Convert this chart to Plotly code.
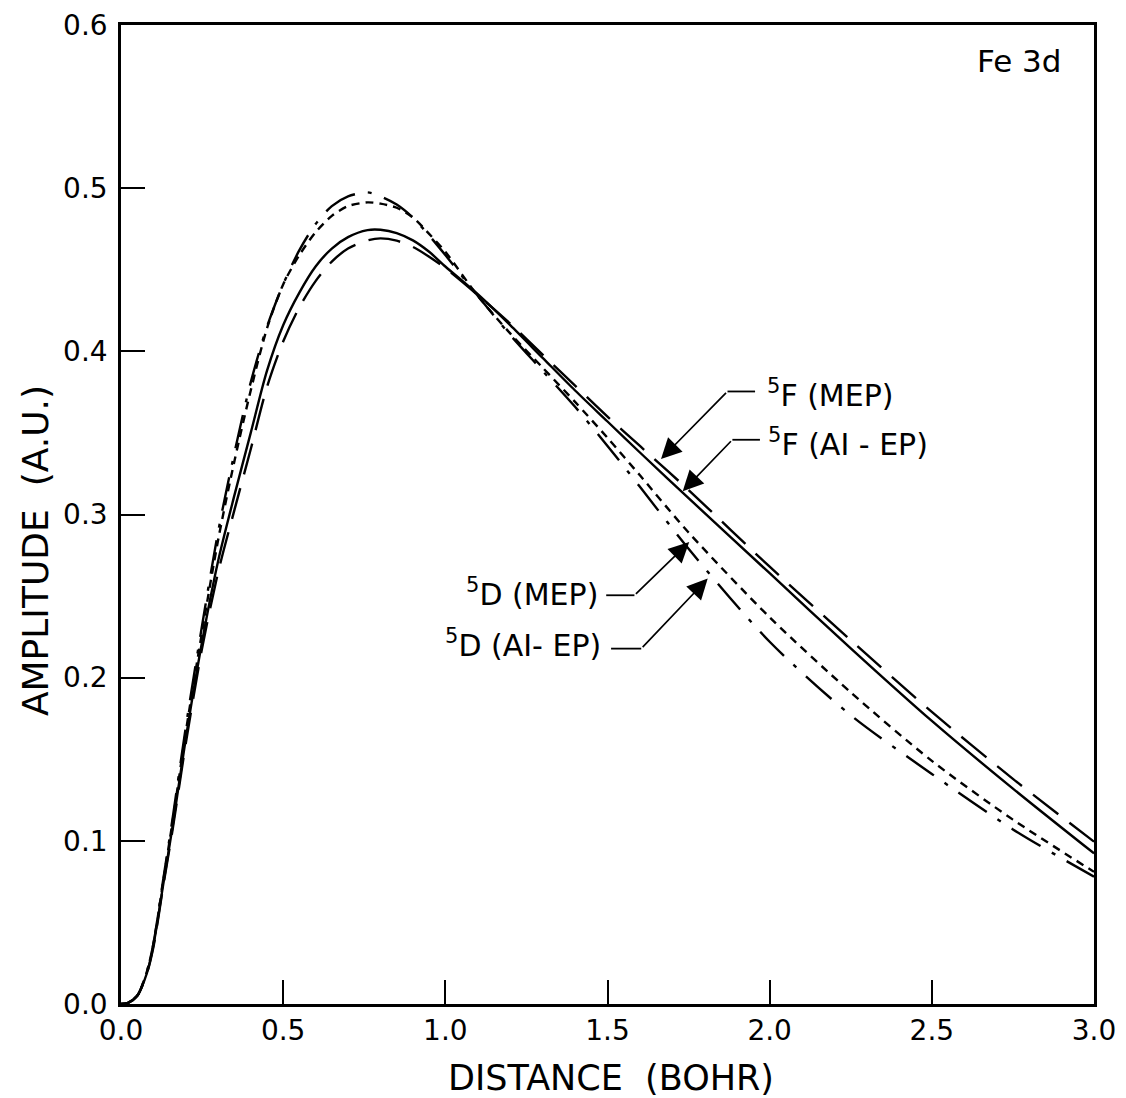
import plotly.graph_objects as go

# Distance grid (bohr)
r = [0.00, 0.02, 0.05, 0.08, 0.10, 0.13, 0.16, 0.20, 0.25, 0.30, 0.35, 0.40, 0.45,
     0.50, 0.55, 0.60, 0.65, 0.70, 0.76, 0.80, 0.85, 0.90, 0.95, 1.00, 1.10, 1.20,
     1.30, 1.40, 1.50, 1.60, 1.75, 2.00, 2.25, 2.50, 2.75, 3.00]

# 5F (AI-EP) – solid
f_aiep = [0.000, 0.0005, 0.005, 0.019, 0.036, 0.073, 0.110, 0.163, 0.222, 0.272, 0.312,
          0.350, 0.388, 0.416, 0.436, 0.452, 0.463, 0.470, 0.4743, 0.4745, 0.4725, 0.468,
          0.461, 0.452, 0.435, 0.416, 0.396, 0.376, 0.357, 0.338, 0.310, 0.264, 0.218,
          0.1735, 0.132, 0.0923]

# 5F (MEP) – long dash
f_mep = [0.000, 0.0005, 0.005, 0.019, 0.035, 0.072, 0.108, 0.160, 0.218, 0.265, 0.303,
         0.340, 0.378, 0.406, 0.427, 0.443, 0.455, 0.463, 0.4680, 0.4692, 0.4678, 0.464,
         0.458, 0.451, 0.4345, 0.417, 0.398, 0.379, 0.360, 0.342, 0.315, 0.268, 0.223,
         0.179, 0.138, 0.0995]

# 5D (MEP) – short dash
d_mep = [0.000, 0.0005, 0.005, 0.020, 0.037, 0.075, 0.113, 0.167, 0.228, 0.285, 0.333,
         0.376, 0.414, 0.441, 0.459, 0.473, 0.483, 0.489, 0.4913, 0.4905, 0.488, 0.482,
         0.472, 0.461, 0.434, 0.411, 0.390, 0.369, 0.347, 0.324, 0.289, 0.237, 0.191,
         0.149, 0.113, 0.081]

# 5D (AI-EP) – dash-dot
d_aiep = [0.000, 0.0005, 0.005, 0.020, 0.037, 0.076, 0.115, 0.170, 0.232, 0.290, 0.338,
          0.381, 0.415, 0.441, 0.462, 0.478, 0.489, 0.495, 0.4974, 0.495, 0.490, 0.482,
          0.471, 0.459, 0.434, 0.410, 0.388, 0.366, 0.342, 0.317, 0.279, 0.222, 0.177,
          0.141, 0.107, 0.078]

x_ticks = [0.0, 0.5, 1.0, 1.5, 2.0, 2.5, 3.0]
x_tick_labels = ["0.0", "0.5", "1.0", "1.5", "2.0", "2.5", "3.0"]
y_ticks = [0.0, 0.1, 0.2, 0.3, 0.4, 0.5, 0.6]
y_tick_labels = ["0.0", "0.1", "0.2", "0.3", "0.4", "0.5", "0.6"]

FONT = "DejaVu Sans"
LW = 2.4

fig = go.Figure()
series = [
    ("5F (AI-EP)", f_aiep, "solid"),
    ("5F (MEP)", f_mep, "32px,14px"),
    ("5D (MEP)", d_mep, "8px,6px"),
    ("5D (AI-EP)", d_aiep, "34px,13px,4px,13px"),
]
for name, ys, dash in series:
    fig.add_trace(go.Scatter(x=r, y=ys, mode="lines", name=name,
                             line=dict(color="black", width=LW, dash=dash,
                                       shape="spline", smoothing=0.8)))

axis_common = dict(showgrid=False, zeroline=False, showline=True, linecolor="black",
                   linewidth=2.5, mirror=True, ticks="inside", ticklen=24, tickwidth=2,
                   tickcolor="black", ticklabeloverflow="allow", automargin=False,
                   tickfont=dict(family=FONT, size=28, color="black"))

fig.update_xaxes(range=[0, 3.0], tickvals=x_ticks, ticktext=x_tick_labels, **axis_common)
fig.update_yaxes(range=[0, 0.6], tickvals=y_ticks, ticktext=y_tick_labels,
                 ticklabelstandoff=5, **axis_common)

annotations = []
# Axis titles
annotations.append(dict(text="DISTANCE  (BOHR)", xref="paper", yref="paper", x=0.504, y=-0.0756,
                        showarrow=False, font=dict(family=FONT, size=35, color="black"),
                        xanchor="center", yanchor="middle"))
annotations.append(dict(text="AMPLITUDE  (A.U.)", xref="paper", yref="paper", x=-0.088, y=0.463,
                        showarrow=False, textangle=-90,
                        font=dict(family=FONT, size=36, color="black"),
                        xanchor="center", yanchor="middle"))
# Panel label
annotations.append(dict(text="Fe 3d", xref="x", yref="y", x=2.905, y=0.578, showarrow=False,
                        xanchor="right", yanchor="middle",
                        font=dict(family=FONT, size=31, color="black")))

# Curve labels: (text, text_x, text_y, anchor, tip_x, tip_y, bend_x, bend_y, hline_end_x)
labels = [
    ("<sup>5</sup>F (MEP)", 1.985, 0.374, "left", 1.665, 0.334, 1.870, 0.3754, 1.955),
    ("<sup>5</sup>F (AI - EP)", 1.990, 0.344, "left", 1.732, 0.3143, 1.885, 0.3458, 1.970),
    ("<sup>5</sup>D (MEP)", 1.478, 0.252, "right", 1.752, 0.2831, 1.583, 0.2505, 1.496),
    ("<sup>5</sup>D (AI- EP)", 1.487, 0.221, "right", 1.809, 0.2607, 1.604, 0.2178, 1.511),
]
shapes = []
for text, tx, ty, anchor, px, py, bx, by, hx in labels:
    annotations.append(dict(text=text, xref="x", yref="y", x=tx, y=ty, showarrow=False,
                            xanchor=anchor, yanchor="middle",
                            font=dict(family=FONT, size=30, color="black")))
    annotations.append(dict(text="", xref="x", yref="y", x=px, y=py,
                            axref="x", ayref="y", ax=bx, ay=by, showarrow=True,
                            arrowhead=2, arrowsize=2.4, arrowwidth=1.7, arrowcolor="black",
                            standoff=0))
    shapes.append(dict(type="line", xref="x", yref="y", x0=bx, y0=by, x1=hx, y1=by,
                       line=dict(color="black", width=1.8)))

fig.update_layout(
    width=1110, height=1090,
    margin=dict(l=113, r=24, t=17, b=94, autoexpand=False),
    paper_bgcolor="white", plot_bgcolor="white",
    showlegend=False,
    annotations=annotations,
    shapes=shapes,
    font=dict(family=FONT, color="black"),
)

fig.write_html("out.html")
